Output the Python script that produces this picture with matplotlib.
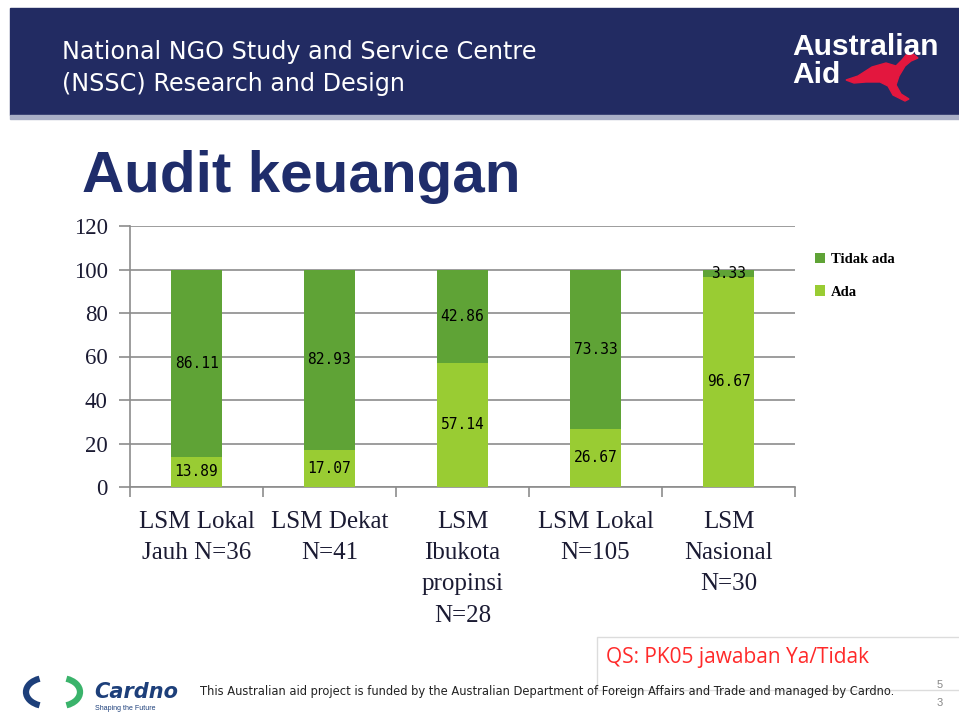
import numpy as np
import matplotlib
matplotlib.use("Agg")
import matplotlib.pyplot as plt
from matplotlib.patches import Rectangle, Polygon, Arc

categories = ["LSM Lokal\nJauh N=36", "LSM Dekat\nN=41", "LSM\nIbukota\npropinsi\nN=28",
              "LSM Lokal\nN=105", "LSM\nNasional\nN=30"]
ada = [13.89, 17.07, 57.14, 26.67, 96.67]
tidak_ada = [86.11, 82.93, 42.86, 73.33, 3.33]
series_names = ["Tidak ada", "Ada"]
y_ticks = [0, 20, 40, 60, 80, 100, 120]

DARK = "#5fa336"
LIGHT = "#99cc33"
NAVY = "#222b62"

W, H = 959, 722
fig = plt.figure(figsize=(W / 100, H / 100), dpi=100)


def fx(px):
    return px / W


def fy(py):
    return 1 - py / H


# header band
fig.patches.append(Rectangle((fx(10), fy(115)), fx(949), 107 / H, transform=fig.transFigure,
                             color=NAVY, zorder=0))
fig.patches.append(Rectangle((fx(10), fy(119)), fx(949), 4 / H, transform=fig.transFigure,
                             color="#a9afc6", zorder=0))
fig.text(fx(62), fy(52), "National NGO Study and Service Centre", color="white",
         fontsize=17.2, family="DejaVu Sans", va="center", ha="left")
fig.text(fx(62), fy(84), "(NSSC) Research and Design", color="white",
         fontsize=17.2, family="DejaVu Sans", va="center", ha="left")
fig.text(fx(792), fy(47), "Australian", color="white", fontsize=21.5, fontweight="bold",
         family="Liberation Sans", va="center", ha="left")
fig.text(fx(792), fy(75), "Aid", color="white", fontsize=21.5, fontweight="bold",
         family="Liberation Sans", va="center", ha="left")
# rough kangaroo
roo = [(846, 80), (858, 76), (872, 67), (886, 63), (896, 66), (902, 60), (906, 55),
       (913, 54), (918, 58), (911, 61), (905, 66), (899, 76), (896, 85), (901, 94),
       (909, 99), (905, 101), (893, 95), (888, 86), (880, 82), (866, 82), (854, 83)]
fig.patches.append(Polygon([(fx(x), fy(y)) for x, y in roo], closed=True,
                           transform=fig.transFigure, color="#e3173e", zorder=1))

# title
fig.text(fx(82), fy(177), "Audit keuangan", color="#1f2d6b", fontsize=42, fontweight="bold",
         family="Liberation Sans", va="center", ha="left")

# chart
ax = fig.add_axes([fx(130), fy(487), fx(665), 261 / H])
x = np.arange(len(categories))
bw = 0.39
b1 = ax.bar(x, ada, bw, color=LIGHT, label=series_names[1], zorder=3)
b2 = ax.bar(x, tidak_ada, bw, bottom=ada, color=DARK, label=series_names[0], zorder=3)
for i in range(len(categories)):
    ax.text(x[i], ada[i] / 2, f"{ada[i]:.2f}", ha="center", va="center",
            fontsize=10.5, family="DejaVu Sans Mono", zorder=4)
    ax.text(x[i], ada[i] + tidak_ada[i] / 2, f"{tidak_ada[i]:.2f}", ha="center", va="center",
            fontsize=10.5, family="DejaVu Sans Mono", zorder=4)

ax.set_xlim(-0.5, len(categories) - 0.5)
ax.set_ylim(0, 120)
ax.set_yticks(y_ticks)
ax.set_yticklabels([str(v) for v in y_ticks], family="Liberation Serif", fontsize=16.5,
                   color="#1b1b33")
ax.yaxis.grid(True, color="#8c8c8c", linewidth=1.2, zorder=0)
ax.set_xticks(np.arange(-0.5, len(categories), 1.0))
ax.set_xticklabels([])
ax.set_xticks(x, minor=True)
ax.set_xticklabels(categories, minor=True, family="Liberation Serif", fontsize=18,
                   linespacing=1.55, va="top", color="#1b1b33")
ax.tick_params(axis="x", which="minor", length=0, pad=17)
ax.tick_params(axis="x", which="major", length=7, color="#8c8c8c", width=1.2)
ax.tick_params(axis="y", length=8, color="#8c8c8c", width=1.2, pad=8)
for s in ["top", "right"]:
    ax.spines[s].set_visible(False)
ax.spines["left"].set_color("#8c8c8c")
ax.spines["bottom"].set_color("#8c8c8c")
ax.spines["left"].set_linewidth(1.2)
ax.spines["bottom"].set_linewidth(1.2)

leg = ax.legend(handles=[b2, b1], loc="upper left", bbox_to_anchor=(fx(802), fy(240)),
                bbox_transform=fig.transFigure, frameon=False, handlelength=0.7,
                handleheight=0.7, handletextpad=0.4, labelspacing=1.3,
                prop={"family": "Liberation Serif", "size": 10.5, "weight": "bold"})

# QS box
fig.patches.append(Rectangle((fx(597), fy(690)), fx(370), 53 / H, transform=fig.transFigure,
                             facecolor="white", edgecolor="#dcdcdc", linewidth=1, zorder=1))
fig.text(fx(606), fy(657), "QS: PK05 jawaban Ya/Tidak", color="#ff2a2a", fontsize=15,
         family="Open Sans", va="center", ha="left", zorder=2)

# footer
fig.patches.append(Arc((fx(46), fy(692)), 40 / W, 28 / H, theta1=110, theta2=250,
                       transform=fig.transFigure, color="#1d3f7a", linewidth=4.5))
fig.patches.append(Arc((fx(60), fy(692)), 40 / W, 28 / H, theta1=-70, theta2=70,
                       transform=fig.transFigure, color="#3ab36b", linewidth=4.5))
fig.text(fx(94), fy(692), "Cardno", color="#1d3f7a", fontsize=15, fontweight="heavy",
         fontstyle="italic", family="DejaVu Sans", va="center", ha="left")
fig.text(fx(95), fy(709), "Shaping the Future", color="#1d3f7a", fontsize=5,
         family="Liberation Sans", va="center", ha="left")
fig.text(fx(200), fy(692),
         "This Australian aid project is funded by the Australian Department of Foreign "
         "Affairs and Trade and managed by Cardno.",
         color="#222222", fontsize=8.3, family="DejaVu Sans", va="center", ha="left")
fig.text(fx(940), fy(685), "5", color="#888888", fontsize=8, family="Liberation Sans",
         va="center", ha="center")
fig.text(fx(940), fy(703), "3", color="#888888", fontsize=8, family="Liberation Sans",
         va="center", ha="center")

fig.savefig("out.png", dpi=100)
